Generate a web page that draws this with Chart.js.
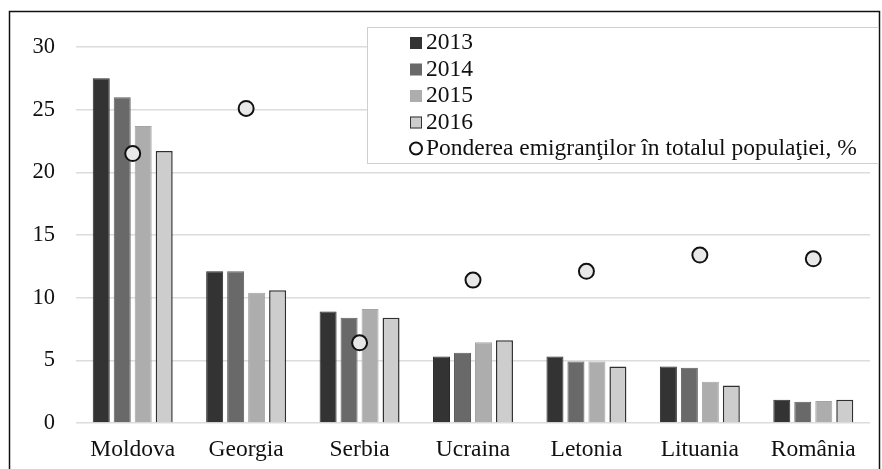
<!DOCTYPE html>
<html>
<head>
<meta charset="utf-8">
<script src="https://cdn.jsdelivr.net/npm/chart.js@4.4.1/dist/chart.umd.min.js"></script>
<style>
  html, body { margin: 0; padding: 0; background: #fff; }
  #wrap { position: relative; width: 882px; height: 469px; }
</style>
</head>
<body>
<div id="wrap"><canvas id="emigChart" width="882" height="469"></canvas></div>
<script>
const countries = ["Moldova", "Georgia", "Serbia", "Ucraina", "Letonia", "Lituania", "România"];
const years = ["2013", "2014", "2015", "2016"];
const values2013 = [27.5, 12.1, 8.9, 5.3, 5.3, 4.5, 1.85];
const values2014 = [26.0, 12.1, 8.4, 5.6, 4.9, 4.4, 1.7];
const values2015 = [23.7, 10.4, 9.1, 6.45, 4.9, 3.3, 1.75];
const values2016 = [21.7, 10.6, 8.4, 6.6, 4.5, 3.0, 1.85];
const sharePop = [21.5, 25.1, 6.4, 11.4, 12.1, 13.4, 13.1];
const shareLabel = "Ponderea emigranţilor în totalul populaţiei, %";
const yTicks = [0, 5, 10, 15, 20, 25, 30];

const barFill = ['#333333', '#696969', '#adadad', '#cdcdcd'];
const barBorder = ['#2a2a2a', '#5e5e5e', '#a4a4a4', '#303030'];
const serif = "'Liberation Serif', 'Times New Roman', serif";

const barSets = [values2013, values2014, values2015, values2016].map((vals, i) => ({
    type: 'bar',
    label: years[i],
    data: vals,
    backgroundColor: barFill[i],
    borderColor: barBorder[i],
    borderWidth: i === 3 ? 1.5 : 1,
    categoryPercentage: 0.74,
    barPercentage: 0.81,
    order: 2
}));

// frame around the whole figure + boxed legend, drawn on the canvas
const framePlugin = {
    id: 'frame',
    beforeDraw(chart) {
        const ctx = chart.ctx;
        ctx.save();
        ctx.strokeStyle = '#111';
        ctx.lineWidth = 1.5;
        ctx.strokeRect(9.5, 11.5, 870, 480);
        ctx.restore();
    },
    afterDraw(chart) {
        const ctx = chart.ctx;
        ctx.save();
        ctx.fillStyle = '#fff';
        ctx.fillRect(367, 27, 511, 136);
        ctx.strokeStyle = '#cfcfcf';
        ctx.lineWidth = 1;
        ctx.strokeRect(367.5, 27.5, 511, 136);
        ctx.font = '23.5px ' + serif;
        ctx.textBaseline = 'middle';
        ctx.textAlign = 'left';
        const rows = [42, 68.5, 95, 121.5, 148];
        chart.data.datasets.forEach((ds, i) => {
            const y = rows[i];
            if (ds.type === 'bar') {
                ctx.fillStyle = ds.backgroundColor;
                ctx.fillRect(410, y - 5, 12, 12);
                if (i === 3) {
                    ctx.strokeStyle = '#333';
                    ctx.lineWidth = 1;
                    ctx.strokeRect(410.5, y - 4.5, 11, 11);
                }
            } else {
                ctx.beginPath();
                ctx.arc(416, y + 0.5, 6, 0, Math.PI * 2);
                ctx.fillStyle = '#fff';
                ctx.fill();
                ctx.strokeStyle = '#111';
                ctx.lineWidth = 2;
                ctx.stroke();
            }
            ctx.fillStyle = '#111';
            ctx.fillText(ds.label, 426, y + 1);
        });
        ctx.restore();
    }
};

new Chart(document.getElementById('emigChart').getContext('2d'), {
    data: {
        labels: countries,
        datasets: [
            ...barSets,
            {
                type: 'line',
                label: shareLabel,
                data: sharePop,
                showLine: false,
                pointStyle: 'circle',
                pointRadius: 7.5,
                pointHoverRadius: 7.5,
                pointBackgroundColor: '#e8e8e8',
                pointBorderColor: '#111',
                pointBorderWidth: 2,
                order: 1
            }
        ]
    },
    options: {
        responsive: false,
        animation: false,
        events: [],
        layout: { padding: { top: 47, right: 12, left: 0, bottom: 0 } },
        plugins: {
            legend: { display: false },
            tooltip: { enabled: false }
        },
        scales: {
            x: {
                grid: { display: false, drawTicks: false },
                border: { display: false },
                ticks: {
                    color: '#111',
                    font: { family: serif, size: 23.5 },
                    padding: 13,
                    maxRotation: 0
                },
                afterFit(scale) { scale.height = 46; }
            },
            y: {
                min: 0,
                max: 30,
                afterBuildTicks(scale) { scale.ticks = yTicks.map(v => ({ value: v })); },
                grid: { color: '#dcdcdc', lineWidth: 1.5, drawTicks: false },
                border: { display: false },
                ticks: {
                    color: '#111',
                    font: { family: serif, size: 22.5 },
                    padding: 21
                },
                afterFit(scale) { scale.width = 76; }
            }
        }
    },
    plugins: [framePlugin]
});
</script>
</body>
</html>
